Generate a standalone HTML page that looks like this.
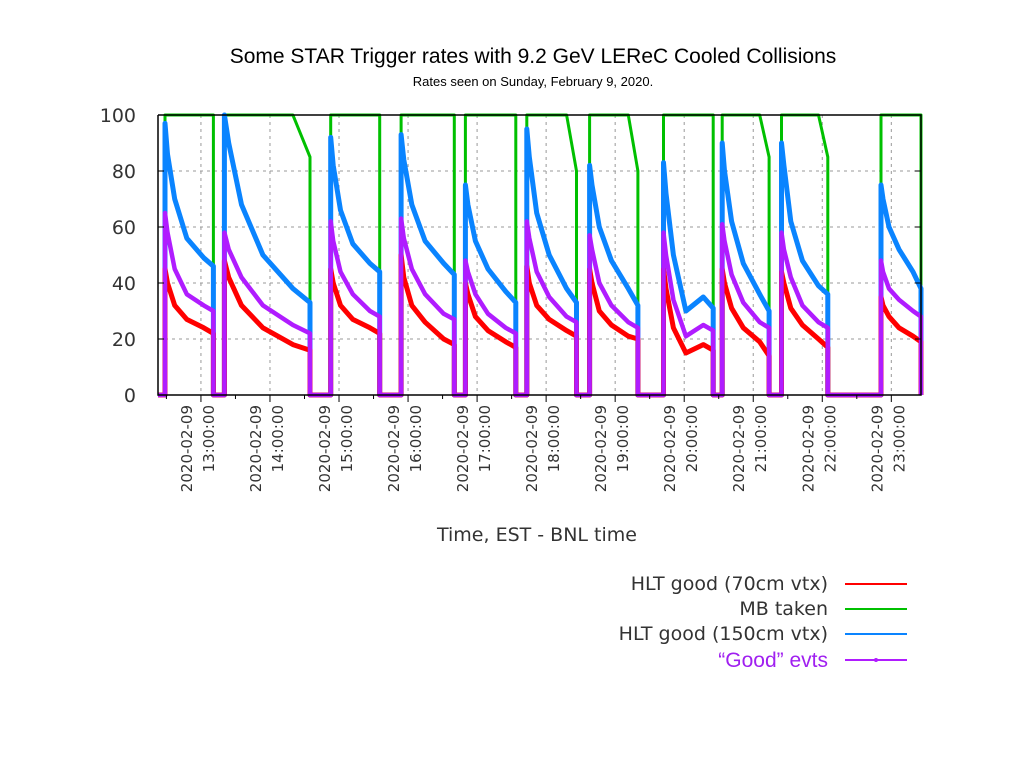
<!DOCTYPE html>
<html><head><meta charset="utf-8"><style>
body{margin:0;background:#fff;width:1024px;height:768px;overflow:hidden}
svg{display:block}
</style></head><body>
<svg id="chart" width="1024" height="768" viewBox="0 0 1024 768" xmlns="http://www.w3.org/2000/svg">
<text x="533" y="63" text-anchor="middle" font-family="Liberation Sans, sans-serif" font-size="21" fill="#000">Some STAR Trigger rates with 9.2 GeV LEReC Cooled Collisions</text>
<text x="533" y="86" text-anchor="middle" font-family="Liberation Sans, sans-serif" font-size="13" fill="#000">Rates seen on Sunday, February 9, 2020.</text>
<g id="grid"></g>
<g id="series"></g>
<g id="axes"></g>
<text x="537" y="541" text-anchor="middle" font-family="DejaVu Sans, sans-serif" font-size="19" fill="#333">Time, EST - BNL time</text>
<g id="legend" font-family="DejaVu Sans, sans-serif" font-size="19" text-anchor="end">
 <g><text x="828" y="590" fill="#333">HLT good (70cm vtx)</text><line x1="845" y1="584" x2="907" y2="584" stroke="#ff0000" stroke-width="2"/></g>
 <g><text x="828" y="615" fill="#333">MB taken</text><line x1="845" y1="609" x2="907" y2="609" stroke="#00c000" stroke-width="2"/></g>
 <g><text x="828" y="640" fill="#333">HLT good (150cm vtx)</text><line x1="845" y1="634" x2="907" y2="634" stroke="#0a84ff" stroke-width="2"/></g>
 <g><text x="828" y="667" fill="#a020f0" font-family="Liberation Sans, sans-serif" font-size="21">“Good” evts</text><line x1="845" y1="660" x2="907" y2="660" stroke="#b01cff" stroke-width="2"/><circle cx="876" cy="660" r="2" fill="#b01cff"/></g>
</g>
</svg>
<script>
// time in decimal hours (EST)
const fillStart = [12.48,13.34,14.88,15.90,16.83,17.72,18.63,19.70,20.55,21.41,22.85];
const fillEnd   = [13.18,14.58,15.59,16.67,17.56,18.44,19.33,20.42,21.23,22.08,23.43];
const sampleFrac = [0,0.05,0.2,0.45,0.8,1];
const blueVals = [[97,86,70,56,49,46],[100,90,68,50,38,33],[92,82,66,54,47,44],[93,84,68,55,47,43],[75,68,55,45,37,33],[95,85,65,50,38,33],[82,75,60,48,38,32],[83,72,50,30,35,31],[90,80,62,47,36,30],[90,82,62,48,39,36],[75,70,60,52,44,38]];
const purpleVals = [[65,58,45,36,32,30],[58,52,42,32,25,22],[62,55,44,36,30,28],[63,56,45,36,29,27],[48,44,36,29,24,22],[62,56,44,35,28,26],[57,52,40,32,26,24],[58,50,34,21,25,23],[61,55,43,33,26,24],[58,52,42,32,26,24],[48,44,38,34,30,28]];
const redVals = [[45,40,32,27,24,22],[48,42,32,24,18,16],[45,40,32,27,24,22],[50,42,32,26,20,18],[40,36,28,23,19,17],[46,40,32,27,23,21],[45,40,30,25,21,20],[45,38,24,15,18,16],[45,40,31,24,19,14],[44,40,31,25,20,17],[35,32,28,24,21,19]];
const greenVals = [[100,100,100,100,100,100],[100,100,100,100,100,85],[100,100,100,100,100,100],[100,100,100,100,100,100],[100,100,100,100,100,100],[100,100,100,100,100,80],[100,100,100,100,100,80],[100,100,100,100,100,100],[100,100,100,100,100,85],[100,100,100,100,100,85],[100,100,100,100,100,100]];
const yTicks = [0,20,40,60,80,100];
const xTickHours = [13,14,15,16,17,18,19,20,21,22,23];
const xTickLabels = ["13:00:00","14:00:00","15:00:00","16:00:00","17:00:00","18:00:00","19:00:00","20:00:00","21:00:00","22:00:00","23:00:00"];
const dateLabel = "2020-02-09";

const NS="http://www.w3.org/2000/svg";
const L=158,R=921,T=115,B=395;
const tMin=12.378,tMax=23.43;
const xs=t=>L+(t-tMin)/(tMax-tMin)*(R-L);
const ys=v=>B-v/100*(B-T);
function mk(tag,attrs,parent){const e=document.createElementNS(NS,tag);for(const k in attrs)e.setAttribute(k,attrs[k]);parent.appendChild(e);return e;}
const grid=document.getElementById('grid'),ser=document.getElementById('series'),ax=document.getElementById('axes');

yTicks.forEach(v=>{ if(v>0&&v<100){const g=mk('line',{x1:L,x2:R,y1:ys(v),y2:ys(v),stroke:'#999','stroke-width':1,'stroke-dasharray':'3,4'},grid);
 
 }
 const t=mk('text',{x:136,y:ys(v)+7,'text-anchor':'end','font-family':'DejaVu Sans, sans-serif','font-size':19,fill:'#333'},ax);
 t.textContent=v;
 
 
 mk('line',{x1:L,x2:L+6,y1:ys(v),y2:ys(v),stroke:'#000'},ax);
 mk('line',{x1:R-6,x2:R,y1:ys(v),y2:ys(v),stroke:'#000'},ax);
});
xTickHours.forEach((h,i)=>{const x=xs(h);
 const g=mk('line',{x1:x,x2:x,y1:T,y2:B,stroke:'#999','stroke-width':1,'stroke-dasharray':'3,4'},grid);
 
 
 mk('line',{x1:x,x2:x,y1:B,y2:B+7,stroke:'#000'},ax);
 const mx=xs(h+0.5); if(mx<R) mk('line',{x1:mx,x2:mx,y1:B,y2:B+4,stroke:'#000'},ax);
 const t1=mk('text',{transform:`translate(${x-9},405) rotate(-90)`,'text-anchor':'end','font-family':'DejaVu Sans, sans-serif','font-size':15,fill:'#333'},ax);
 t1.textContent=dateLabel;
 
 
 const t2=mk('text',{transform:`translate(${x+13},405) rotate(-90)`,'text-anchor':'end','font-family':'DejaVu Sans, sans-serif','font-size':15,fill:'#333'},ax);
 t2.textContent=xTickLabels[i];
 
 
});
mk('line',{x1:xs(12.5),x2:xs(12.5),y1:B,y2:B+4,stroke:'#000'},ax);

function buildPath(vals){
 let pts=[[tMin,0]];
 fillStart.forEach((s,i)=>{const e=fillEnd[i];
  pts.push([s,0]);
  sampleFrac.forEach((f,j)=>pts.push([s+(e-s)*f,vals[i][j]]));
  pts.push([e,0]);
 });
 pts.push([tMax,0]);
 return pts.map((p,k)=>(k?'L':'M')+xs(p[0]).toFixed(1)+','+ys(p[1]).toFixed(1)).join(' ');
}
const seriesDefs=[['mb-taken-line',greenVals,'#00c000',3],['hlt150-line',blueVals,'#0a84ff',5],['hlt70-line',redVals,'#ff0000',5],['good-evts-line',purpleVals,'#b01cff',4.5]];
seriesDefs.forEach(d=>{
 const p=mk('path',{d:buildPath(d[1]),fill:'none',stroke:d[2],'stroke-width':d[3],'stroke-linejoin':'round'},ser);
 
 
});
const border=mk('polyline',{points:`${L},${T} ${L},${B} ${R},${B} ${R},${T} ${L},${T}`,fill:'none',stroke:'#000','stroke-width':1.5},ax);


</script>
</body></html>
